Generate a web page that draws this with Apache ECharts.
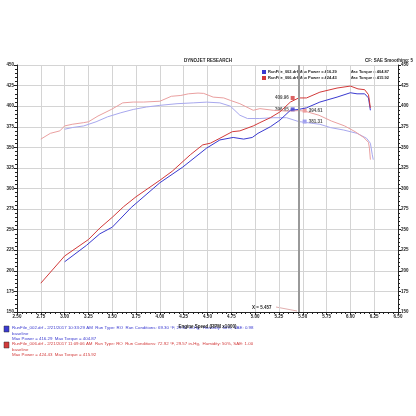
<!DOCTYPE html>
<html>
<head>
    <meta charset="utf-8">
    <title>Dyno</title>
    <script src="https://cdn.jsdelivr.net/npm/echarts@6/dist/echarts.min.js"></script>
</head>
<style>
    *{ padding: 0; margin: 0; }
    body { background: #fff; }
    #main { width: 416px; height: 416px; }
</style>
<body>
    <div id="main"></div>
    <script type="text/javascript">
    // run 006 (red) power, hp
    var redPowerRpm = [2.75,3.00,3.25,3.37,3.50,3.62,3.75,4.00,4.13,4.32,4.45,4.53,4.63,4.76,4.84,4.98,5.05,5.16,5.26,5.37,5.457,5.54,5.68,5.86,6.00,6.08,6.15,6.19,6.21];
    var redPower    = [185,218,238,252,265,278,290,310,321,341,353,355,361,369,370,376,380,386,393,405,409.96,410,417,422,424.4,421,420,414,398];
    // run 002 (blue) power, hp
    var bluePowerRpm = [3.00,3.23,3.37,3.50,3.70,4.00,4.24,4.49,4.63,4.77,4.88,4.97,5.03,5.16,5.26,5.37,5.457,5.54,5.68,5.86,6.00,6.07,6.15,6.19,6.21];
    var bluePower    = [211,231,245,253,277,307,326,349,359,362,360,362,367,375,383,395,396.05,398,405,411,416.3,415,415,410,395];
    // run 006 (red) torque, lb-ft
    var redTorqueRpm = [2.75,2.85,2.95,3.00,3.08,3.20,3.25,3.35,3.49,3.61,3.72,3.83,4.00,4.12,4.22,4.30,4.40,4.46,4.56,4.67,4.74,4.84,4.98,5.05,5.19,5.33,5.457,5.52,5.67,5.80,5.94,6.05,6.14,6.19,6.20,6.21];
    var redTorque    = [360,367,370,376,378,380,381,388,396,404,405,405,406,412,413,415,415.9,415.5,411,410,407,403,395,397,395,394,394.61,394,389,382,376,369,362,356,349,335];
    // run 002 (blue) torque, lb-ft
    var blueTorqueRpm = [3.00,3.08,3.20,3.33,3.45,3.59,3.72,3.86,4.00,4.18,4.35,4.49,4.63,4.74,4.84,4.92,5.05,5.19,5.33,5.457,5.68,5.79,5.93,6.07,6.17,6.21,6.23,6.24];
    var blueTorque    = [372,374,376,381,387,392,396,399,401,403,404,404.9,404,400,389,385,385,386,386,381.31,378,374,371,367,361,355,341,335];

    var cursorX = 5.457;
    var xTicks = [2.5, 6.5, 0.25];
    var yTicks = [150, 450, 25];

    var FONT = 'Liberation Sans';
    var RED = '#d23a3a', BLUE = '#3a3ad0', PALE_RED = '#eaa0a0', PALE_BLUE = '#a8a8ee';

    function pairs(xs, ys) {
        return xs.map(function (x, i) { return [x, ys[i]]; });
    }
    function line(name, xs, ys, color, axis) {
        return {
            name: name, type: 'line', yAxisIndex: axis,
            data: pairs(xs, ys), showSymbol: false, smooth: false,
            lineStyle: { color: color, width: 1 }, silent: true
        };
    }
    function marker(value, color, axis, side) {
        return {
            type: 'scatter', yAxisIndex: axis, symbol: 'rect', symbolSize: 4,
            symbolOffset: [side === 'left' ? -6 : 6, 0],
            itemStyle: { color: color },
            data: [[cursorX, value]],
            label: {
                show: true, position: side, distance: 2,
                formatter: value.toFixed(2), fontSize: 4.5, fontWeight: 'bold',
                color: '#222', fontFamily: FONT
            }
        };
    }
    function yAxis(name, pos, rot) {
        return {
            type: 'value', position: pos, min: yTicks[0], max: yTicks[1], interval: yTicks[2],
            name: name, nameLocation: 'middle', nameRotate: rot, nameGap: 13,
            nameTextStyle: { fontSize: 4.5, fontWeight: 'bold', color: '#222', fontFamily: FONT },
            axisLine: { show: true, lineStyle: { color: '#222', width: 1 } },
            axisTick: { show: true, length: 3, lineStyle: { color: '#222' } },
            minorTick: { show: true, splitNumber: 5, length: 2, lineStyle: { color: '#222' } },
            axisLabel: { fontSize: 4.5, fontWeight: 'bold', color: '#222', margin: 3, fontFamily: FONT },
            splitLine: { show: pos === 'left', lineStyle: { color: '#d4d4d4', width: 1 } }
        };
    }

    var myChart = echarts.init(document.getElementById('main'));
    var legendTop = [
        ['RunFile_002.drf Max Power = 416.29', 'Max Torque = 404.87', BLUE, 72],
        ['RunFile_006.drf Max Power = 424.43', 'Max Torque = 415.92', RED, 78]
    ];
    var bottomText = [
        [BLUE, 328, ['RunFile_002.drf - 2/21/2017 10:33:29 AM  Run Type: RO  Run Conditions: 69.30 \u00b0F, 29.81 in-Hg,  Humidity: 60%, SAE: 0.98', 'baseline', 'Max Power = 416.29  Max Torque = 404.87']],
        [RED, 344, ['RunFile_006.drf - 2/21/2017 11:09:06 AM  Run Type: RO  Run Conditions: 72.92 \u00b0F, 29.57 in-Hg,  Humidity: 50%, SAE: 1.00', 'baseline', 'Max Power = 424.43  Max Torque = 415.92']]
    ];
    var graphics = [
        { type: 'text', left: 'center', top: 58, style: { text: 'DYNOJET RESEARCH', fontSize: 4.5, fontWeight: 'bold', fill: '#222', fontFamily: FONT } },
        { type: 'text', right: 3, top: 58, style: { text: 'CF: SAE Smoothing: 5', fontSize: 4.5, fontWeight: 'bold', fill: '#222', fontFamily: FONT } },
        { type: 'text', x: 252, y: 305, style: { text: 'X = 5.457', fontSize: 4.5, fontWeight: 'bold', fill: '#222', fontFamily: FONT } },
        { type: 'line', shape: { x1: 276, y1: 307, x2: 297, y2: 311 }, style: { stroke: '#c77', lineWidth: 0.6 } }
    ];
    legendTop.forEach(function (l) {
        graphics.push({ type: 'rect', shape: { x: 262, y: l[3] - 2, width: 4, height: 4 }, style: { fill: l[2] } });
        graphics.push({ type: 'text', x: 268, y: l[3] - 2.5, style: { text: l[0], fontSize: 4, fontWeight: 'bold', fill: '#222', fontFamily: FONT } });
        graphics.push({ type: 'text', x: 350, y: l[3] - 2.5, style: { text: l[1], fontSize: 4, fontWeight: 'bold', fill: '#222', fontFamily: FONT } });
    });
    bottomText.forEach(function (b) {
        graphics.push({ type: 'rect', shape: { x: 4, y: b[1] - 2, width: 5, height: 6 }, style: { fill: b[0], stroke: '#333', lineWidth: 0.5 } });
        b[2].forEach(function (t, i) {
            graphics.push({ type: 'text', x: 12, y: b[1] - 2 + i * 5.3, style: { text: t, fontSize: 4.4, fill: b[0], fontFamily: FONT } });
        });
    });

    var option = {
        animation: false,
        backgroundColor: '#fff',
        grid: { left: 17, right: 18, top: 65, bottom: 104, outerBoundsMode: 'none', containLabel: false },
        xAxis: {
            type: 'value', min: xTicks[0], max: xTicks[1], interval: xTicks[2],
            name: 'Engine Speed (RPM x1000)', nameLocation: 'middle', nameGap: 7,
            nameTextStyle: { fontSize: 4.5, fontWeight: 'bold', color: '#222', fontFamily: FONT },
            axisLine: { lineStyle: { color: '#222', width: 1 } },
            axisTick: { show: true, length: 3, lineStyle: { color: '#222' } },
            minorTick: { show: true, splitNumber: 5, length: 2, lineStyle: { color: '#222' } },
            axisLabel: { fontSize: 4.5, fontWeight: 'bold', color: '#222', margin: 2, fontFamily: FONT,
                         formatter: function (v) { return v.toFixed(2); } },
            splitLine: { show: true, lineStyle: { color: '#d4d4d4', width: 1 } }
        },
        yAxis: [yAxis('Power (hp)', 'left', 90), yAxis('Torque (lb-ft)', 'right', -90)],
        graphic: graphics,
        series: [
            line('RunFile_002 torque', blueTorqueRpm, blueTorque, PALE_BLUE, 1),
            line('RunFile_006 torque', redTorqueRpm, redTorque, PALE_RED, 1),
            Object.assign(line('RunFile_002 power', bluePowerRpm, bluePower, BLUE, 0), {
                markLine: {
                    silent: true, symbol: 'none', label: { show: false },
                    lineStyle: { color: '#999', width: 2, type: 'solid' },
                    data: [{ xAxis: cursorX }]
                }
            }),
            line('RunFile_006 power', redPowerRpm, redPower, RED, 0),
            marker(409.96, RED, 0, 'left'),
            marker(396.05, BLUE, 0, 'left'),
            marker(394.61, '#e88', 1, 'right'),
            marker(381.31, '#88e', 1, 'right')
        ]
    };
    myChart.setOption(option);
    </script>
</body>
</html>
